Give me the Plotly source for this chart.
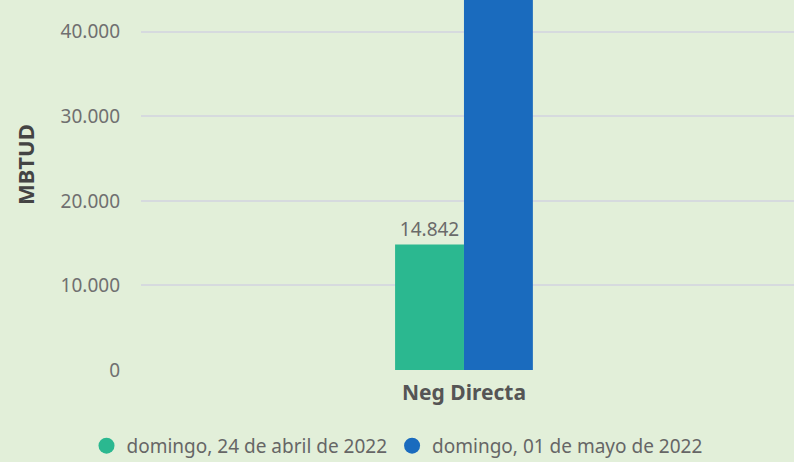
import plotly.graph_objects as go

categories = ["Neg Directa"]
series_names = ["domingo, 24 de abril de 2022", "domingo, 01 de mayo de 2022"]
values_abr = [14842]
values_may = [52000]
colors = ["#2BB890", "#1A6BBE"]
y_ticks = [0, 10000, 20000, 30000, 40000]
y_title = "MBTUD"

fig = go.Figure()
for name, vals, col, show_text in [
    (series_names[0], values_abr, colors[0], True),
    (series_names[1], values_may, colors[1], False),
]:
    fig.add_trace(go.Bar(
        x=categories, y=vals, name=name, marker_color=col,
        marker_line_width=0,
        texttemplate="%{y:,d}" if show_text else "",
        textposition="outside", cliponaxis=True,
        textfont=dict(size=19, color="#6A6A6A", family="Noto Sans"),
        showlegend=False,
    ))
    fig.add_trace(go.Scatter(
        x=[None], y=[None], mode="markers", name=name,
        marker=dict(symbol="circle", size=18, color=col),
    ))

fig.update_layout(
    width=794, height=462,
    paper_bgcolor="#E2EFD9", plot_bgcolor="#E2EFD9",
    margin=dict(l=141, r=0, t=0, b=92),
    separators=",.",
    barmode="group", bargap=0.789, bargroupgap=0,
    font=dict(family="Noto Sans", color="#666666"),
    showlegend=True,
    legend=dict(
        orientation="h", xref="container", yref="container",
        x=0.5, xanchor="center", y=0.035, yanchor="middle",
        font=dict(size=19, color="#666666"),
        itemsizing="trace", itemwidth=30, tracegroupgap=0,
    ),
    annotations=[dict(
        text="<b>" + y_title + "</b>", textangle=-90,
        xref="paper", yref="paper", x=-0.1776, y=0.554,
        xanchor="center", yanchor="middle", showarrow=False,
        font=dict(size=22, color="#444444"),
    )],
)
fig.update_yaxes(
    range=[0, 43765], tickvals=y_ticks, tickformat=",d",
    gridcolor="#D6DADE", gridwidth=2, zeroline=False,
    tickfont=dict(size=19, color="#707070"),
    ticklabelstandoff=20,
)
fig.update_xaxes(
    tickfont=dict(size=21, color="#555555"),
    tickprefix="<b>", ticksuffix="</b>",
    ticklabelstandoff=8,
    showgrid=False, range=[-0.4946, 0.5054],
)
fig.write_html("out.html")
